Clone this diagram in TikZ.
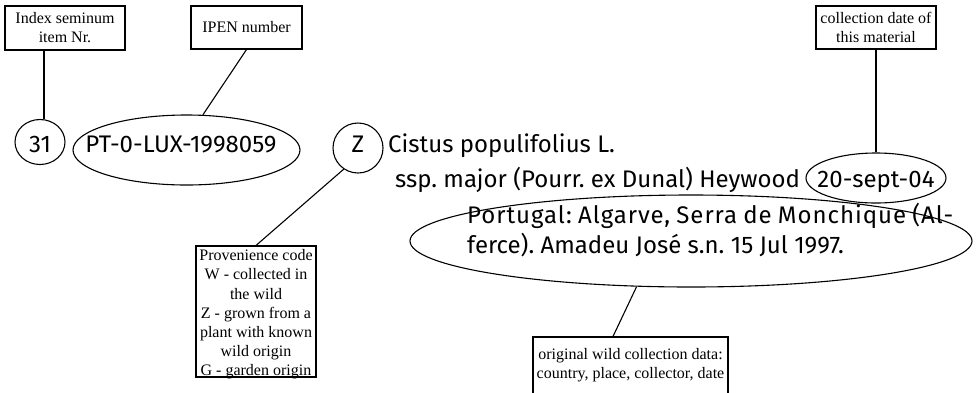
\documentclass[tikz,border=0pt]{standalone}
\usepackage{fontspec}
\setmainfont{Liberation Serif}
\newfontfamily\labelfont{Fira Sans}
\usetikzlibrary{shapes.geometric,calc}
\frenchspacing
\begin{document}
\begin{tikzpicture}[x=1pt,y=-1pt,
  box/.style={draw, line width=1.1pt, rectangle, inner sep=0pt, align=center,
              font=\fontsize{16}{19}\selectfont},
  boxtext/.style={align=center, inner sep=0pt, font=\fontsize{16}{19.2}\selectfont},
  oval/.style={draw, ellipse, line width=1.1pt, inner sep=0pt},
  lab/.style={inner sep=0pt, font=\labelfont\fontsize{24}{29}\selectfont},
  conn/.style={line width=1.1pt}]
\useasboundingbox (0,0) rectangle (980,392);
\clip (0,0) rectangle (980,392);

% top boxes
\node[box, minimum width=120, minimum height=44] (idx) at (65,28)
  {Index seminum\\item Nr.};
\node[box, minimum width=111, minimum height=43] (ipen) at (246.5,27.5)
  {IPEN number};
\node[box, minimum width=120, minimum height=43] (coll) at (876,27.5)
  {collection date of\\this material};

% ovals
\node[oval, minimum width=50, minimum height=45] (c31) at (40,142) {};
\node[oval, minimum width=227, minimum height=70] (ipe) at (186.5,150) {};
\node[oval, minimum width=50, minimum height=50] (cz) at (358,148) {};
\node[oval, minimum width=140, minimum height=50] (date) at (876,178) {};
\node[oval, minimum width=562, minimum height=92] (wild) at (691,241) {};

% texts
\node[lab, anchor=base] (t31) at (40,152) {31};
\node[lab, anchor=base] (tipen) at (181,152) {PT-0-LUX-1998059};
\node[lab, anchor=base] (tz) at (358,152) {Z};
\node[lab, anchor=base west] (tname) at (388,152) {Cistus populifolius L.};
\node[lab, anchor=base west] (tssp) at (395,187) {ssp. major (Pourr. ex Dunal) Heywood};
\node[lab, anchor=base] (tdate) at (876,187) {20-sept-04};
\node[lab, anchor=base west] (tw1) at (467,223)
  {\addfontfeature{LetterSpace=4}\makebox[486pt][s]{Portugal: Algarve, Serra de Monchique (Al-}};
\node[lab, anchor=base west] (tw2) at (467,253) {ferce). Amadeu José s.n. 15 Jul 1997.};

% lower boxes
\node[box, minimum width=120, minimum height=131] (prov) at (256,311.5) {};
\node[boxtext] (provtxt) at (256,314.5)
  {Provenience code\\W - collected in\\the wild\\Z - grown from a\\plant with known\\wild origin\\G - garden origin};
\node[box, minimum width=195, minimum height=83] (bot) at (630.5,378.5) {};
\node[boxtext] (bottxt) at (630.5,365)
  {original wild collection data:\\country, place, collector, date};

% connectors
\draw[conn] (c31.80 |- idx.south) -- (c31.80);
\draw[conn] (ipen.south) -- (ipe.65);
\draw[conn] (coll.south) -- (date.north);
\draw[conn] (cz.236) -- (prov.north);
\draw[conn] (wild.220) -- ([xshift=-17.5pt]bot.north);
\end{tikzpicture}
\end{document}
